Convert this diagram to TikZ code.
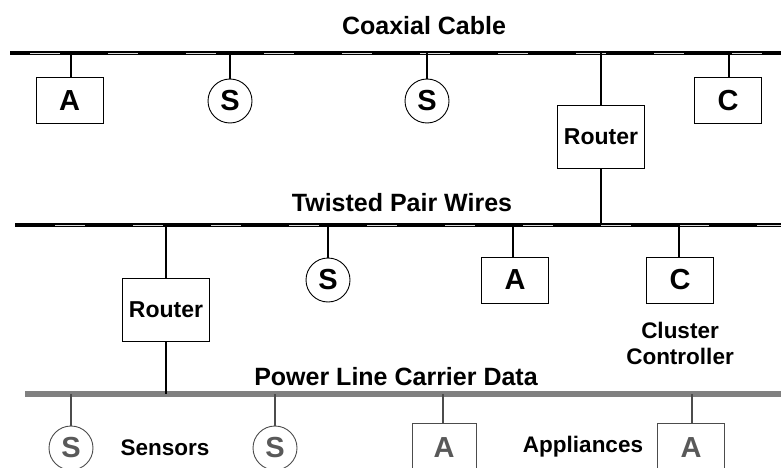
\documentclass[tikz,border=0pt]{standalone}
\usepackage{fontspec}
\setmainfont{Liberation Sans}
\begin{document}
\begin{tikzpicture}[x=1pt,y=-1pt,
  title/.style={font=\fontsize{25}{27}\selectfont\bfseries},
  lbl/.style={font=\fontsize{22.5}{24}\selectfont\bfseries},
  dev/.style={draw=black,line width=0.9pt,minimum width=67pt,minimum height=46pt,inner sep=0pt,font=\fontsize{29}{30}\selectfont\bfseries},
  sen/.style={draw=black,circle,line width=0.9pt,minimum size=44pt,inner sep=0pt,font=\fontsize{29}{30}\selectfont\bfseries},
  rout/.style={draw=black,line width=0.9pt,minimum width=87pt,minimum height=63pt,inner sep=0pt,font=\fontsize{23}{25}\selectfont\bfseries},
  faded/.style={text=black!65,draw=black!70},
  link/.style={line width=1.1pt},
  busline/.style={line width=3.8pt,black},
  busmark/.style={line width=1.1pt,black!15,dash pattern=on 30pt off 48pt},
  powerline/.style={line width=5.5pt,black!50}
]
\useasboundingbox (0,0) rectangle (781,468);
\clip (0,0) rectangle (781,468);

% bus end points
\coordinate (coaxL) at (10,53);
\coordinate (coaxR) at (781,53);
\coordinate (tpL) at (15,225);
\coordinate (tpR) at (781,225);
\coordinate (plL) at (25,394);
\coordinate (plR) at (781,394);

% bus titles
\node[title] (tCoax) at (424,26) {Coaxial Cable};
\node[title] (tTP) at (402,203) {Twisted Pair Wires};
\node[title] (tPL) at (396,377) {Power Line Carrier Data};

% buses
\draw[busline] (coaxL) -- (coaxR);
\draw[busmark,dash phase=-20pt] ([yshift=-0.8pt]coaxL) -- ([yshift=-0.8pt]coaxR);
\draw[busline] (tpL) -- (tpR);
\draw[busmark,dash phase=-40pt] ([yshift=-0.8pt]tpL) -- ([yshift=-0.8pt]tpR);
\draw[powerline] (plL) -- (plR);

% coaxial cable devices
\node[dev] (a1) at (69.5,100.5) {A};
\node[sen] (s1) at (230,101) {S};
\node[sen] (s2) at (427,101) {S};
\node[rout] (r1) at (601,136.5) {Router};
\node[dev] (c1) at (728,100.5) {C};

\coordinate (ka1) at (71,53);
\coordinate (ks1) at (230,53);
\coordinate (ks2) at (427,53);
\coordinate (kr1) at (601,53);
\coordinate (kc1) at (729,53);
\coordinate (kr1b) at (601,225);
\draw[link] (ka1) -- (ka1 |- a1.north);
\draw[link] (ks1) -- (s1.north);
\draw[link] (ks2) -- (s2.north);
\draw[link] (kr1) -- (r1.north);
\draw[link] (r1.south) -- (kr1b);
\draw[link] (kc1) -- (kc1 |- c1.north);

% twisted pair devices
\node[rout] (r2) at (166,309.5) {Router};
\node[sen] (s3) at (328,280) {S};
\node[dev] (a2) at (515,280) {A};
\node[dev] (c2) at (680,280) {C};
\node[lbl,align=center] (cc) at (680,343.5) {Cluster\\[2pt]Controller};

\coordinate (kr2) at (166,225);
\coordinate (kr2b) at (166,394);
\coordinate (ks3) at (328,225);
\coordinate (ka2) at (513,225);
\coordinate (kc2) at (679,225);
\draw[link] (kr2) -- (r2.north);
\draw[link] (r2.south) -- (kr2b);
\draw[link] (ks3) -- (s3.north);
\draw[link] (ka2) -- (ka2 |- a2.north);
\draw[link] (kc2) -- (kc2 |- c2.north);

% power line devices
\node[sen,faded] (s4) at (71,448) {S};
\node[lbl] (lsen) at (165,448) {Sensors};
\node[sen,faded] (s5) at (275,448) {S};
\node[dev,faded,minimum width=64pt,minimum height=49pt] (a3) at (444,447.5) {A};
\node[lbl] (lapp) at (583,447) {Appliances};
\node[dev,faded,minimum height=49pt] (a4) at (691,447.5) {A};

\coordinate (ks4) at (71,394);
\coordinate (ks5) at (275,394);
\coordinate (ka3) at (443,394);
\coordinate (ka4) at (692,394);
\draw[link,black!70] (ks4) -- (s4.north);
\draw[link,black!70] (ks5) -- (s5.north);
\draw[link,black!70] (ka3) -- (ka3 |- a3.north);
\draw[link,black!70] (ka4) -- (ka4 |- a4.north);
\end{tikzpicture}
\end{document}
